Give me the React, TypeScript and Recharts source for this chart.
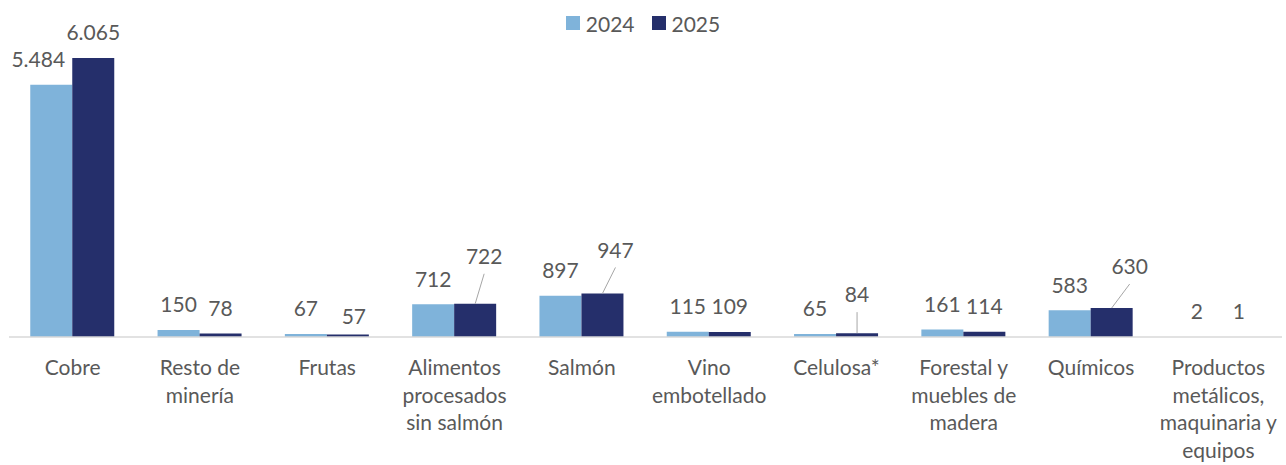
import { BarChart, Bar, XAxis, YAxis, Legend, LabelList } from "recharts";

const categories = [
  "Cobre",
  "Resto de\nminería",
  "Frutas",
  "Alimentos\nprocesados\nsin salmón",
  "Salmón",
  "Vino\nembotellado",
  "Celulosa*",
  "Forestal y\nmuebles de\nmadera",
  "Químicos",
  "Productos\nmetálicos,\nmaquinaria y\nequipos",
];
const seriesNames = ["2024", "2025"];
const values2024 = [5484, 150, 67, 712, 897, 115, 65, 161, 583, 2];
const values2025 = [6065, 78, 57, 722, 947, 109, 84, 114, 630, 1];

const COLORS = ["#7FB3DA", "#252F6B"];
const TEXT = "#595959";
const FONT = "Lato, 'Noto Sans', sans-serif";
const FS = 21;

const data = categories.map((name, i) => ({
  name,
  v2024: values2024[i],
  v2025: values2025[i],
}));

// label placement tweaks (dx, dy, leader line) like the excel original
type Nudge = [number, number, boolean];
const nudge2024: Record<number, Nudge> = { 0: [-13, 0, false] };
const nudge2025: Record<number, Nudge> = {
  2: [6, 7, false],
  3: [9, -22, true],
  4: [13, -18, true],
  6: [0, -13, true],
  8: [18, -16, true],
};

const fmt = (n: number) => String(n).replace(/\B(?=(\d{3})+(?!\d))/g, ".");

const makeLabel = (nudges: Record<number, Nudge>) => (props: any) => {
  const { x, y, width, value, index } = props;
  const cx = Number(x) + Number(width) / 2;
  const top = Number(y);
  const [dx, dy, leader] = nudges[index] ?? [0, 0, false];
  const lx = cx + dx;
  const ly = top - 25 + dy;
  return (
    <g>
      {leader && <line x1={cx} y1={top} x2={lx} y2={ly + 17} stroke="#A6A6A6" strokeWidth={1} />}
      <text x={lx} y={ly} dy="0.35em" textAnchor="middle" fill={TEXT} fontFamily={FONT} fontSize={FS}>
        {fmt(Number(value))}
      </text>
    </g>
  );
};

const CategoryTick = (props: any) => {
  const { x, y, payload } = props;
  const lines = String(payload.value).split("\n");
  return (
    <text x={x} y={Number(y) + 31} textAnchor="middle" fill={TEXT} fontFamily={FONT} fontSize={FS}>
      {lines.map((l, i) => (
        <tspan key={i} x={x} dy={i === 0 ? "0.35em" : 27.5}>
          {l}
        </tspan>
      ))}
    </text>
  );
};

const LegendContent = () => (
  <div style={{ display: "flex", justifyContent: "center", fontFamily: FONT, fontSize: FS, color: TEXT, height: 30, alignItems: "center" }}>
    {seriesNames.map((s, i) => (
      <span key={s} style={{ display: "flex", alignItems: "center", marginRight: i === 0 ? 17 : 0 }}>
        <span style={{ width: 14, height: 14, background: COLORS[i], display: "inline-block", marginRight: 6 }} />
        {s}
      </span>
    ))}
  </div>
);

export default function App() {
  return (
    <div style={{ position: "absolute", left: 0, top: 0 }}>
      <BarChart
        width={1286}
        height={465}
        data={data}
        margin={{ top: 15, right: 4, bottom: 0, left: 9 }}
        barCategoryGap="16.7%"
        barGap={0}
      >
        <XAxis
          dataKey="name"
          height={128}
          tickLine={false}
          tickSize={0}
          tickMargin={0}
          axisLine={{ stroke: "#D9D9D9", strokeWidth: 1.5 }}
          tick={<CategoryTick />}
          interval={0}
        />
        <YAxis hide domain={[0, 7000]} />
        <Legend
          layout="horizontal"
          verticalAlign="middle"
          align="center"
          content={<LegendContent />}
          wrapperStyle={{ top: 8, left: 0, width: 1286 }}
        />
        <Bar dataKey="v2024" name={seriesNames[0]} fill={COLORS[0]} isAnimationActive={false}>
          <LabelList dataKey="v2024" content={makeLabel(nudge2024)} />
        </Bar>
        <Bar dataKey="v2025" name={seriesNames[1]} fill={COLORS[1]} isAnimationActive={false}>
          <LabelList dataKey="v2025" content={makeLabel(nudge2025)} />
        </Bar>
      </BarChart>
    </div>
  );
}
